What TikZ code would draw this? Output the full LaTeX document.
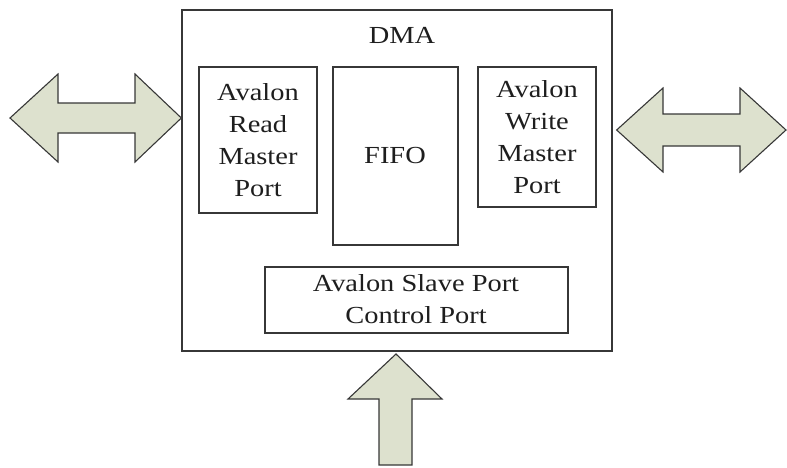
\documentclass[tikz,border=0pt]{standalone}
\usepackage{fontspec}
\setmainfont{Liberation Serif}[FakeStretch=1.16]
\definecolor{arrowfill}{RGB}{221,225,206}
\definecolor{edge}{RGB}{55,55,55}
\definecolor{ink}{RGB}{30,30,30}
\begin{document}
\begin{tikzpicture}[x=1pt,y=-1pt,
  block/.style={draw=edge,line width=1.3pt,inner sep=0pt,rectangle},
  label/.style={text=ink,align=center,inner sep=0pt,font=\fontsize{24.5}{31.8}\selectfont},
  bigarrow/.style={draw=edge,fill=arrowfill,line width=1.1pt,line join=miter}]
\useasboundingbox (0,0) rectangle (787,467);

% outer DMA block and its parts
\node[block,minimum width=430pt,minimum height=341pt] (dma) at (397,180.5) {};
\node[label] (dmat) at (402,35) {DMA};
\node[block,minimum width=118pt,minimum height=146pt] (rd) at (258,140) {};
\node[label] (rdt) at (258,140) {Avalon\\Read\\Master\\Port};
\node[block,minimum width=125pt,minimum height=178pt] (fifo) at (395.5,156) {};
\node[label] (fifot) at (395,156) {FIFO};
\node[block,minimum width=118pt,minimum height=140pt] (wr) at (537,137) {};
\node[label] (wrt) at (537,137) {Avalon\\Write\\Master\\Port};
\node[block,minimum width=303pt,minimum height=66pt] (sl) at (416.5,300) {};
\node[label] (slt) at (416,299) {Avalon Slave Port\\Control Port};

% read side bus
\draw[bigarrow] (10,118) -- (58,74) -- (58,103) -- (135,103) -- (135,74) -- (dma.west |- 0,118)
  -- (135,162) -- (135,133) -- (58,133) -- (58,162) -- cycle;
% write side bus
\draw[bigarrow] (dma.east |- 0,130) ++(4,0) coordinate (wtip) -- (663,88) -- (663,114) -- (740,114) -- (740,88) -- (786,130)
  -- (740,172) -- (740,146) -- (663,146) -- (663,172) -- cycle;
% control input
\draw[bigarrow] (396,354) -- (442,399) -- (412,399) -- (412,465) -- (379,465) -- (379,399) -- (348,399) -- cycle;
\end{tikzpicture}
\end{document}
